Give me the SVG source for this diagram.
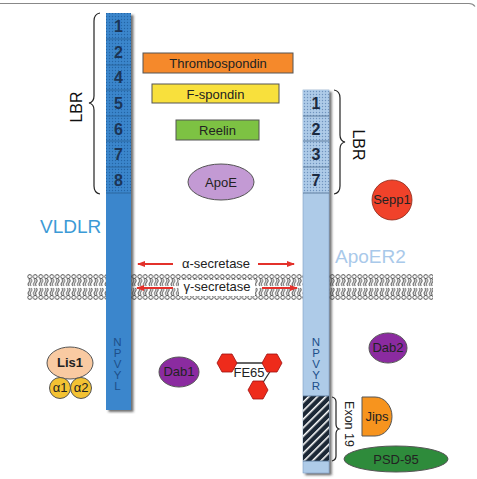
<svg xmlns="http://www.w3.org/2000/svg" width="477" height="479" viewBox="0 0 477 479">
<defs>
<pattern id="dotsV" patternUnits="userSpaceOnUse" width="3" height="3"><rect width="3" height="3" fill="#3b86cc"/><circle cx="1.5" cy="1.5" r="0.7" fill="#2465a6"/></pattern>
<pattern id="dotsA" patternUnits="userSpaceOnUse" width="3" height="3"><rect width="3" height="3" fill="#aecbe8"/><circle cx="1.5" cy="1.5" r="0.7" fill="#6f93bd"/></pattern>
<pattern id="hatch" patternUnits="userSpaceOnUse" width="6" height="6" patternTransform="rotate(45)"><rect width="6" height="6" fill="#1c2836"/><rect x="0" y="0" width="1.6" height="6" fill="#ffffff"/></pattern>
<pattern id="lipid" patternUnits="userSpaceOnUse" x="27" y="274" width="5.5" height="26">
<rect width="5.5" height="26" fill="#ffffff"/>
<path d="M1.8,5 q1.5,1.8 0,3.5 q-1.5,1.8 0,3.5 M3.9,5 q1.5,1.8 0,3.5 q-1.5,1.8 0,3.5 M1.8,14 q1.5,1.8 0,3.5 q-1.5,1.8 0,3.5 M3.9,14 q1.5,1.8 0,3.5 q-1.5,1.8 0,3.5" fill="none" stroke="#555" stroke-width="1"/>
<circle cx="2.75" cy="2.6" r="2" fill="#fff" stroke="#444" stroke-width="0.9"/>
<circle cx="2.75" cy="23.4" r="2" fill="#fff" stroke="#444" stroke-width="0.9"/>
</pattern>
<filter id="sh" x="-30%" y="-5%" width="160%" height="110%"><feDropShadow dx="2.5" dy="2" stdDeviation="1.2" flood-color="#333" flood-opacity="0.7"/></filter>
<marker id="ah" markerWidth="8" markerHeight="6" refX="7" refY="3" orient="auto" markerUnits="userSpaceOnUse"><path d="M0,0 L8,3 L0,6 z" fill="#e3312b"/></marker>
<style>
.t{font-family:"Liberation Sans",Arial,sans-serif;}
.seg{font-family:"Liberation Sans",Arial,sans-serif;font-size:16px;font-weight:bold;text-anchor:middle;}
.box{stroke:#555;stroke-width:1;}
.lbl{font-family:"Liberation Sans",Arial,sans-serif;font-size:13px;text-anchor:middle;fill:#222;}
.br{fill:none;stroke:#222;stroke-width:1.2;}
.arr{stroke:#e3312b;stroke-width:1.8;marker-end:url(#ah);}
.hex{fill:#ee2b1b;stroke:#a01010;stroke-width:0.8;}
</style>
</defs>
<rect width="477" height="479" fill="#ffffff"/>
<path d="M0,3.5 H469 q4,0 6,3" fill="none" stroke="#888" stroke-width="1.2"/>

<g id="membrane">
<rect x="27" y="274" width="406" height="26" fill="url(#lipid)"/>
</g>

<g id="vldlr">
<g filter="url(#sh)">
<rect x="106" y="13" width="25" height="397" fill="#3b86cc"/>
</g>
<rect x="106" y="13" width="25" height="180" fill="url(#dotsV)"/>
<g stroke="#2a5f96" stroke-width="0.8">
<line x1="106" y1="39" x2="131" y2="39"/><line x1="106" y1="65" x2="131" y2="65"/><line x1="106" y1="90" x2="131" y2="90"/><line x1="106" y1="116" x2="131" y2="116"/><line x1="106" y1="141" x2="131" y2="141"/><line x1="106" y1="167" x2="131" y2="167"/><line x1="106" y1="193" x2="131" y2="193"/>
</g>
<g class="seg" fill="#1b3557">
<text x="118.5" y="32">1</text><text x="118.5" y="58">2</text><text x="118.5" y="83">4</text><text x="118.5" y="109">5</text><text x="118.5" y="135">6</text><text x="118.5" y="160">7</text><text x="118.5" y="186">8</text>
</g>
<g class="t" font-size="11.5" fill="#1d4f8a" text-anchor="middle">
<text x="117.5" y="346">N</text><text x="117.5" y="357">P</text><text x="117.5" y="368">V</text><text x="117.5" y="379">Y</text><text x="117.5" y="390">L</text>
</g>
<path class="br" d="M100,13 q-6,1 -6,8 v75 q0,6 -5,7 q5,1 5,7 v76 q0,7 6,8"/>
<text class="t" font-size="16" fill="#111" transform="translate(82,107) rotate(-90)" text-anchor="middle">LBR</text>
<text class="t" x="40" y="233" font-size="19" fill="#3c9ad6">VLDLR</text>
</g>

<g id="apoer2">
<g filter="url(#sh)">
<rect x="303" y="90" width="26" height="383" fill="#aecbe8" stroke="#7f9fc2" stroke-width="0.6"/>
</g>
<rect x="303" y="90" width="26" height="103" fill="url(#dotsA)"/>
<rect x="303" y="396" width="26" height="65" fill="url(#hatch)"/>
<g stroke="#4e6c8f" stroke-width="0.8">
<line x1="303" y1="116" x2="329" y2="116"/><line x1="303" y1="141" x2="329" y2="141"/><line x1="303" y1="167" x2="329" y2="167"/><line x1="303" y1="193" x2="329" y2="193"/><line x1="303" y1="396" x2="329" y2="396"/><line x1="303" y1="461" x2="329" y2="461"/>
</g>
<g class="seg" fill="#1b2a40">
<text x="316" y="109">1</text><text x="316" y="135">2</text><text x="316" y="160">3</text><text x="316" y="186">7</text>
</g>
<g class="t" font-size="11.5" fill="#1d4f8a" text-anchor="middle">
<text x="316" y="346">N</text><text x="316" y="357">P</text><text x="316" y="368">V</text><text x="316" y="379">Y</text><text x="316" y="390">R</text>
</g>
<path class="br" d="M334,90 q6,1 6,8 v37 q0,6 5,7 q-5,1 -5,7 v37 q0,7 -6,8"/>
<text class="t" font-size="16" fill="#111" transform="translate(353,145) rotate(90)" text-anchor="middle">LBR</text>
<path class="br" d="M332,397 q4,1 4,5 v22 q0,4 3,5 q-3,1 -3,5 v22 q0,4 -4,5"/>
<text class="t" font-size="12.5" fill="#222" transform="translate(345,424) rotate(90)" text-anchor="middle">Exon 19</text>
<text class="t" x="335" y="263" font-size="19" fill="#a9c9ea">ApoER2</text>
</g>

<g id="secretases">
<text class="lbl" x="216" y="268">α-secretase</text>
<rect x="179" y="280" width="76" height="16" fill="#ffffff"/>
<text class="lbl" x="217" y="291">γ-secretase</text>
</g>

<g id="connectors">
<line class="arr" x1="173" y1="264" x2="138" y2="264"/>
<line class="arr" x1="258" y1="264" x2="294" y2="264"/>
<line class="arr" x1="173" y1="288" x2="137" y2="288"/>
<line class="arr" x1="262" y1="288" x2="297" y2="288"/>
<path d="M236,363 H263 M271,370 L262,384" stroke="#333" stroke-width="1.3" fill="none"/>
</g>

<g id="thrombospondin"><rect class="box" x="143" y="53" width="150" height="20" fill="#f5892b"/><text class="lbl" x="218" y="68">Thrombospondin</text></g>
<g id="fspondin"><rect class="box" x="152" y="84" width="127" height="19" fill="#f8e03c"/><text class="lbl" x="215.5" y="98.5">F-spondin</text></g>
<g id="reelin"><rect class="box" x="176" y="120" width="83" height="20" fill="#7dc243"/><text class="lbl" x="217.5" y="135">Reelin</text></g>
<g id="apoe"><ellipse cx="221" cy="182" rx="33" ry="18" fill="#c39ad4" stroke="#555" stroke-width="1"/><text class="lbl" x="221" y="187">ApoE</text></g>
<g id="sepp1"><circle cx="392" cy="200" r="20" fill="#f0422a" stroke="#8a2a1a" stroke-width="0.8"/><text class="lbl" x="392" y="204" font-size="11">Sepp1</text></g>

<g id="lis1">
<ellipse cx="70" cy="363" rx="23" ry="16" fill="#f9caa2" stroke="#555" stroke-width="1"/>
<text class="lbl" x="70" y="367" font-size="11" font-weight="bold">Lis1</text>
<circle cx="60" cy="388" r="10.5" fill="#f3c233" stroke="#555" stroke-width="1"/>
<circle cx="81" cy="388" r="10.5" fill="#f3c233" stroke="#555" stroke-width="1"/>
<text class="lbl" x="60" y="392" font-size="11">α1</text>
<text class="lbl" x="81" y="392" font-size="11">α2</text>
</g>
<g id="dab1"><ellipse cx="179" cy="372" rx="20" ry="15" fill="#8b2ba0" stroke="#555" stroke-width="1"/><text class="lbl" x="179" y="376" font-size="12">Dab1</text></g>
<g id="fe65">
<polygon class="hex" points="217,363 222,354 232,354 237,363 232,372 222,372"/>
<polygon class="hex" points="262,363 267,354 277,354 282,363 277,372 267,372"/>
<polygon class="hex" points="248,390 253,381 263,381 268,390 263,399 253,399"/>
<text class="lbl" x="249" y="377">FE65</text>
</g>
<g id="dab2"><ellipse cx="388" cy="348" rx="19" ry="15" fill="#8b2ba0" stroke="#555" stroke-width="1"/><text class="lbl" x="388" y="352" font-size="12">Dab2</text></g>
<g id="jips"><path d="M362,397 H375 a17,19.5 0 0 1 0,39 H362 z" fill="#f7941e" stroke="#555" stroke-width="1"/><text class="lbl" x="377" y="421" font-size="12">Jips</text></g>
<g id="psd95"><ellipse cx="396" cy="459" rx="52" ry="13" fill="#2e8b3b" stroke="#555" stroke-width="1"/><text class="lbl" x="396" y="464">PSD-95</text></g>
</svg>
